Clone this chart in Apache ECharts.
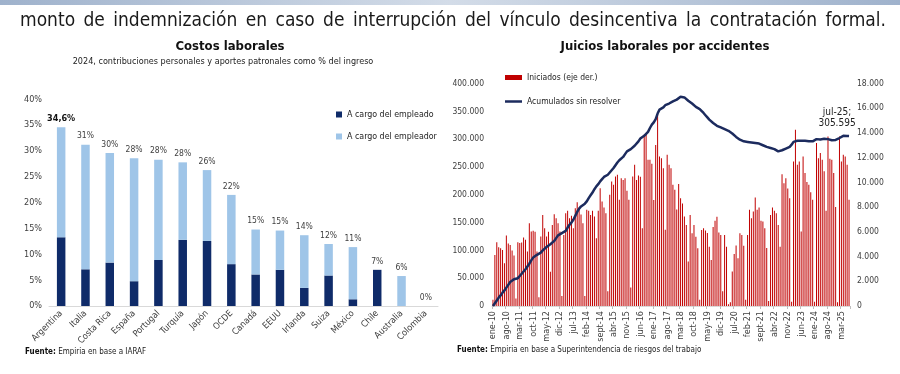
<!DOCTYPE html>
<html><head><meta charset="utf-8">
<script src="https://cdn.jsdelivr.net/npm/echarts@6/dist/echarts.min.js"></script>
<style>html,body{margin:0;padding:0;background:#fff}#c{width:900px;height:374px}</style>
</head><body><div id="c"></div>
<script>
// ---------- texts ----------
const headerText = 'monto de indemnización en caso de interrupción del vínculo desincentiva la contratación formal.';
const leftTitle = 'Costos laborales';
const leftSubtitle = '2024, contribuciones personales y aportes patronales como % del ingreso';
const rightTitle = 'Juicios laborales por accidentes';
const leftSource = 'Empiria en base a IARAF';
const rightSource = 'Empiria en base a Superintendencia de riesgos del trabajo';

// ---------- left chart data ----------
const countries = ['Argentina','Italia','Costa Rica','España','Portugal','Turquía','Japón','OCDE','Canadá','EEUU','Irlanda','Suiza','México','Chile','Australia','Colombia'];
const employeeShare = [13.3, 7.1, 8.4, 4.8, 8.9, 12.8, 12.6, 8.1, 6.1, 7.0, 3.5, 5.9, 1.3, 7.0, 0, 0];
const employerShare = [21.3, 24.1, 21.2, 23.8, 19.4, 15.0, 13.7, 13.4, 8.7, 7.6, 10.2, 6.1, 10.1, 0, 5.8, 0];
const totalLabels = ['34,6%','31%','30%','28%','28%','28%','26%','22%','15%','15%','14%','12%','11%','7%','6%','0%'];
const leftSeriesNames = ['A cargo del empleado','A cargo del empleador'];

// ---------- right chart data ----------
const monthNames = ['ene','feb','mar','abr','may','jun','jul','ago','sept','oct','nov','dic'];
const yearLabels = ['10','11','12','13','14','15','16','17','18','19','20','21','22','23','24','25'];
const lastMonthCount = 7; // data through jul-25
const rightSeriesNames = ['Iniciados (eje der.)','Acumulados sin resolver'];
const iniciados = [
  500, 4130, 5160, 4750, 4670, 4540, 3460, 5700, 5050, 4940, 4500, 4080,
  600, 5160, 5100, 5130, 5540, 5350, 4400, 6700, 6020, 6080, 6010, 4400,
  700, 5620, 7370, 6290, 5620, 6000, 2780, 6560, 7430, 7100, 6700, 6020,
  800, 5750, 7500, 7700, 7100, 7300, 6290, 7900, 8400, 7900, 7400, 6700,
  800, 7780, 7700, 7370, 7700, 7240, 5480, 7700, 9530, 8450, 7970, 7500,
  1200, 9000, 10070, 9800, 10480, 10610, 8590, 10340, 10200, 10340, 9320, 8590,
  1500, 10480, 11420, 10200, 10560, 10460, 6290, 13850, 13990, 11830, 11830, 11500,
  8580, 13030, 15500, 12100, 11960, 11150, 6160, 12230, 11420, 11150, 9800, 9400,
  7800, 9860, 8720, 8300, 7240, 6550, 3590, 7360, 5880, 6550, 5610, 4670,
  500, 6150, 6300, 6100, 5900, 4800, 3720, 6400, 6900, 7230, 5950, 5750,
  1200, 5750, 4800, 150, 300, 2800, 4200, 4900, 3860, 5890, 5750, 4870,
  500, 5750, 7780, 7100, 7640, 8780, 7780, 7970, 6890, 6830, 6290, 4700,
  400, 7370, 7970, 7700, 7510, 6560, 4800, 10660, 9940, 10340, 9500, 8720,
  350, 11690, 14260, 11420, 11690, 6020, 12100, 10750, 10030, 9800, 9200, 8590,
  350, 13180, 11960, 12370, 11830, 10900, 7700, 13720, 11910, 11830, 10750, 8000,
  300, 13720, 11690, 12230, 12100, 11420, 8590
];
const acumulados = [
  0, 5000, 10000, 15000, 19000, 24000, 28000, 33000, 38000, 43000, 46000, 48000,
  49000, 50000, 54000, 58000, 62000, 66000, 71000, 76000, 82000, 87000, 90000, 92000,
  93000, 96000, 100000, 103000, 106000, 109000, 111000, 113000, 117000, 122000, 127000, 130000,
  131000, 133000, 135000, 141000, 146000, 150000, 155000, 162000, 169000, 175000, 179000, 182000,
  184000, 188000, 194000, 199000, 204000, 210000, 215000, 219000, 224000, 228000, 232000, 235000,
  236000, 240000, 244000, 248000, 253000, 258000, 262000, 265000, 268000, 273000, 278000, 280000,
  282000, 285000, 288000, 291000, 296000, 301000, 304000, 306000, 308000, 313000, 320000, 326000,
  330000, 336000, 346000, 353000, 356000, 357000, 361000, 363000, 364000, 366000, 368000, 369000,
  371000, 374000, 376000, 376000, 375000, 372000, 369000, 367000, 364000, 361000, 358000, 356000,
  354000, 351000, 347000, 343000, 339000, 335000, 332000, 329000, 326000, 324000, 322000, 321000,
  320000, 318000, 317000, 315000, 313000, 310000, 307000, 304000, 301000, 299000, 297000, 296000,
  295000, 295000, 294000, 294000, 294000, 293000, 292000, 292000, 291000, 289000, 287000, 286000,
  285000, 284000, 283000, 282000, 280000, 278000, 277000, 280000, 283000, 283000, 284000, 286000,
  290000, 295000, 296000, 297000, 297000, 297000, 297500, 297000, 296000, 296000, 295500, 296000,
  298000, 300000, 300000, 299500, 300000, 300500, 300000, 300000, 299000, 298000, 297500, 298500,
  299000, 302000, 305000, 305900, 305500, 305800, 305595
];
const leftTicks = {min: 0, max: 40, interval: 5};
const rightLeftTicks = {min: 0, max: 400000, interval: 50000};
const rightRightTicks = {min: 0, max: 18000, interval: 2000};

// ---------- helpers ----------
const monthLabels = [];
yearLabels.forEach((y, yi) => {
  const n = yi === yearLabels.length - 1 ? lastMonthCount : 12;
  for (let m = 0; m < n; m++) monthLabels.push(monthNames[m] + '-' + y);
});
function dots(v) { return String(Math.round(v)).replace(/\B(?=(\d{3})+(?!\d))/g, '.'); }

const FONT = 'DejaVu Sans Condensed';
const DARK = '#0f2b69';
const LIGHT = '#9fc5e8';
const RED = '#c00000';
const NAVY = '#1c2b5e';
const TXT = '#404040';

// justified header words
const headerFontSize = 19;
const headerLeft = 20, headerRight = 886, headerY = 21;
const cvs = document.createElement('canvas').getContext('2d');
cvs.font = headerFontSize + 'px "' + FONT + '"';
const words = headerText.split(' ');
const widths = words.map(w => cvs.measureText(w).width);
const gap = (headerRight - headerLeft - widths.reduce((a, b) => a + b, 0)) / (words.length - 1);
const headerGraphics = [];
let xCur = headerLeft;
words.forEach((w, i) => {
  headerGraphics.push({type: 'text', x: xCur, y: headerY,
    style: {text: w, fill: '#1a1a1a', font: headerFontSize + 'px "' + FONT + '"', textAlign: 'left', textVerticalAlign: 'middle'}});
  xCur += widths[i] + gap;
});

const chart = echarts.init(document.getElementById('c'), null, {renderer: 'canvas'});

const lastIdx = acumulados.length - 1;
const lineData = acumulados.map((v, i) => i === lastIdx ? {
  value: v, symbol: 'circle', symbolSize: 0,
  label: {show: true, position: 'top', distance: 7, formatter: monthLabels[i] + ';\n' + dots(v),
    fontSize: 10, lineHeight: 11, color: '#222', fontFamily: FONT, align: 'center', offset: [-12, 0]}
} : v);

const option = {
  animation: false,
  backgroundColor: '#fff',
  textStyle: {fontFamily: FONT},
  graphic: [
    {type: 'rect', shape: {x: 0, y: 0, width: 900, height: 5},
      style: {fill: new echarts.graphic.LinearGradient(0, 0, 1, 0, [
        {offset: 0, color: '#9fb2cc'}, {offset: 0.5, color: '#d3dce8'}, {offset: 1, color: '#9fb2cc'}])}},
    ...headerGraphics,
    {type: 'text', x: 230, y: 47, style: {text: leftTitle, font: 'bold 13px "' + FONT + '"', fill: '#111', textAlign: 'center', textVerticalAlign: 'middle'}},
    {type: 'text', x: 223, y: 62, style: {text: leftSubtitle, font: '9px "' + FONT + '"', fill: '#222', textAlign: 'center', textVerticalAlign: 'middle'}},
    {type: 'text', x: 665, y: 47, style: {text: rightTitle, font: 'bold 13px "' + FONT + '"', fill: '#111', textAlign: 'center', textVerticalAlign: 'middle'}},
    {type: 'text', x: 25, y: 352, style: {text: '{b|Fuente:} ' + leftSource, rich: {b: {fontWeight: 'bold', fontSize: 8, fontFamily: FONT, fill: '#111'}}, font: '8px "' + FONT + '"', fill: '#222', textVerticalAlign: 'middle'}},
    {type: 'text', x: 457, y: 350, style: {text: '{b|Fuente:} ' + rightSource, rich: {b: {fontWeight: 'bold', fontSize: 8, fontFamily: FONT, fill: '#111'}}, font: '8px "' + FONT + '"', fill: '#222', textVerticalAlign: 'middle'}}
  ],
  legend: [
    {data: leftSeriesNames.map(n => ({name: n, icon: 'rect'})), orient: 'vertical', left: 331, top: 105,
      itemWidth: 6, itemHeight: 6, itemGap: 13, textStyle: {fontSize: 8.8, color: '#222', fontFamily: FONT}},
    {data: [{name: rightSeriesNames[0], icon: 'rect'},
            {name: rightSeriesNames[1], icon: 'path://M0,0 L34,0 L34,5 L0,5 Z', itemStyle: {color: NAVY, borderWidth: 0}}],
      orient: 'vertical', left: 500, top: 68,
      itemWidth: 17, itemHeight: 5, itemGap: 15, textStyle: {fontSize: 8.5, color: '#222', fontFamily: FONT}}
  ],
  grid: [
    {left: 49, right: 462, top: 99.3, bottom: 68},
    {left: 492, right: 50, top: 83.5, bottom: 68}
  ],
  xAxis: [
    {type: 'category', gridIndex: 0, data: countries,
      axisLine: {lineStyle: {color: '#d9d9d9'}}, axisTick: {show: false},
      axisLabel: {rotate: 45, interval: 0, fontSize: 9, color: TXT, margin: 6}},
    {type: 'category', gridIndex: 1, data: monthLabels,
      axisLine: {lineStyle: {color: '#d9d9d9'}}, axisTick: {show: true, interval: 6, length: 3, lineStyle: {color: '#bfbfbf'}},
      axisLabel: {rotate: 90, interval: 6, fontSize: 9, color: TXT, margin: 5}}
  ],
  yAxis: [
    {type: 'value', gridIndex: 0, min: leftTicks.min, max: leftTicks.max, interval: leftTicks.interval,
      axisLine: {show: false}, axisTick: {show: false}, splitLine: {show: false},
      axisLabel: {formatter: v => v + '%', fontSize: 9, color: TXT, margin: 7}},
    {type: 'value', gridIndex: 1, min: rightLeftTicks.min, max: rightLeftTicks.max, interval: rightLeftTicks.interval,
      axisLine: {show: false}, axisTick: {show: false}, splitLine: {show: false},
      axisLabel: {formatter: v => dots(v), fontSize: 8.5, color: TXT, margin: 8}},
    {type: 'value', gridIndex: 1, position: 'right', min: rightRightTicks.min, max: rightRightTicks.max, interval: rightRightTicks.interval,
      axisLine: {show: false}, axisTick: {show: false}, splitLine: {show: false},
      axisLabel: {formatter: v => dots(v), fontSize: 8.5, color: TXT, margin: 7}}
  ],
  series: [
    {name: leftSeriesNames[0], type: 'bar', stack: 'costos', xAxisIndex: 0, yAxisIndex: 0, data: employeeShare,
      barWidth: 8.5, itemStyle: {color: DARK}},
    {name: leftSeriesNames[1], type: 'bar', stack: 'costos', xAxisIndex: 0, yAxisIndex: 0, data: employerShare,
      barWidth: 8.5, itemStyle: {color: LIGHT},
      label: {show: true, position: 'top', distance: 4, fontSize: 8.5, color: TXT,
        formatter: p => p.dataIndex === 0 ? '{b|' + totalLabels[0] + '}' : totalLabels[p.dataIndex],
        rich: {b: {fontWeight: 'bold', fontSize: 9, color: '#111'}}}},
    {name: rightSeriesNames[0], type: 'bar', xAxisIndex: 1, yAxisIndex: 2, data: iniciados,
      barWidth: 1, itemStyle: {color: RED}},
    {name: rightSeriesNames[1], type: 'line', xAxisIndex: 1, yAxisIndex: 1, data: lineData,
      symbol: 'none', showSymbol: true, showAllSymbol: true,
      lineStyle: {color: NAVY, width: 2.5}, itemStyle: {color: NAVY}, z: 5, label: {show: false}}
  ]
};
chart.setOption(option);
</script></body></html>
